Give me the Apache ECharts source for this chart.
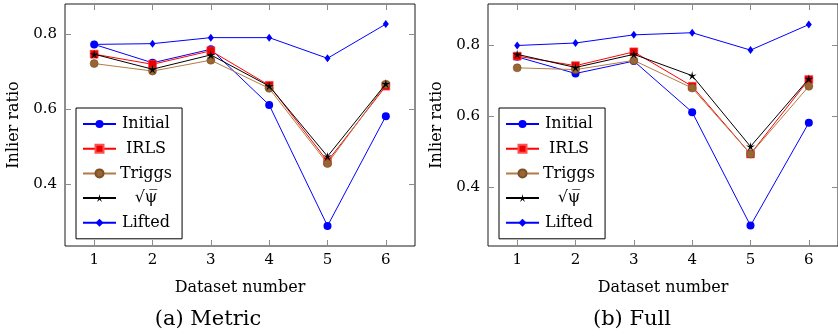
<!DOCTYPE html>
<html>
<head>
<meta charset="utf-8">
<style>
  html, body { margin: 0; padding: 0; background: #fff; }
  #chart { width: 838px; height: 336px; }
</style>
<script src="https://cdn.jsdelivr.net/npm/echarts@6/dist/echarts.min.js"></script>
</head>
<body>
<div id="chart"></div>
<script>
// ---------- data ----------
const categories = ['1', '2', '3', '4', '5', '6'];
const seriesNames = ['Initial', 'IRLS', 'Triggs', '√ψ', 'Lifted'];
const yTickValues = [0.4, 0.6, 0.8];

// (a) Metric
const metricInitial = [0.773, 0.724, 0.760, 0.612, 0.290, 0.582];
const metricIRLS    = [0.747, 0.720, 0.756, 0.664, 0.462, 0.662];
const metricTriggs  = [0.722, 0.702, 0.731, 0.656, 0.456, 0.667];
const metricSqrtPsi = [0.747, 0.707, 0.745, 0.662, 0.475, 0.668];
const metricLifted  = [0.773, 0.775, 0.791, 0.791, 0.736, 0.827];

// (b) Full
const fullInitial = [0.768, 0.721, 0.756, 0.612, 0.292, 0.582];
const fullIRLS    = [0.770, 0.743, 0.782, 0.685, 0.494, 0.704];
const fullTriggs  = [0.737, 0.732, 0.758, 0.680, 0.494, 0.685];
const fullSqrtPsi = [0.775, 0.738, 0.775, 0.715, 0.515, 0.706];
const fullLifted  = [0.800, 0.807, 0.830, 0.836, 0.787, 0.859];

const captions = ['(a) Metric', '(b) Full'];
const xAxisTitle = 'Dataset number';
const yAxisTitle = 'Inlier ratio';

// ---------- styles ----------
const FONT = '"DejaVu Serif", "Liberation Serif", serif';
const starPath = 'path://M50 0 L58.82 37.86 L97.55 34.55 L64.27 54.64 L79.39 90.45 L50 65 L20.61 90.45 L35.73 54.64 L2.45 34.55 L41.18 37.86 Z';

const styles = {
  'Initial': { color: '#0000ff', symbol: 'circle', symbolSize: 8, item: { color: '#0000ff' } },
  'IRLS':    { color: '#ff0000', symbol: 'rect', symbolSize: 8, item: { color: '#ee0000', borderColor: '#ff5050', borderWidth: 0.6 } },
  'Triggs':  { color: '#b47a45', symbol: 'circle', symbolSize: 8, item: { color: '#996633', borderColor: '#7a5028', borderWidth: 0.6 } },
  '√ψ':      { color: '#000000', symbol: starPath, symbolSize: 9, item: { color: '#000000' } },
  'Lifted':  { color: '#0000ff', symbol: 'diamond', symbolSize: [6, 8], item: { color: '#0000ff' } }
};

const panels = [
  { data: [metricInitial, metricIRLS, metricTriggs, metricSqrtPsi, metricLifted], ymin: 0.2365, ymax: 0.8805, left: 65, captionX: 208 },
  { data: [fullInitial, fullIRLS, fullTriggs, fullSqrtPsi, fullLifted], ymin: 0.2345, ymax: 0.917, left: 488, captionX: 632 }
];

const grids = [], xAxes = [], yAxes = [], series = [], legends = [], graphics = [];

panels.forEach((p, i) => {
  grids.push({ left: p.left, top: 4, width: 350, height: 242, show: true, borderColor: '#1a1a1a', borderWidth: 1, backgroundColor: 'transparent' });
  const tickStyle = { show: true, inside: true, length: 6, lineStyle: { color: '#8c8c8c', width: 1 } };
  xAxes.push({
    type: 'category', gridIndex: i, data: categories, boundaryGap: true, position: 'bottom',
    axisLine: { show: false },
    axisTick: Object.assign({ alignWithLabel: true }, tickStyle),
    axisLabel: { show: true, margin: 7, fontFamily: FONT, fontSize: 15, color: '#000' },
    name: xAxisTitle, nameLocation: 'middle', nameGap: 34,
    nameTextStyle: { fontFamily: FONT, fontSize: 16, color: '#000' },
    splitLine: { show: false }
  });
  xAxes.push({
    type: 'category', gridIndex: i, data: categories, boundaryGap: true, position: 'top',
    axisLine: { show: false },
    axisTick: Object.assign({ alignWithLabel: true }, tickStyle),
    axisLabel: { show: false }, splitLine: { show: false }
  });
  yAxes.push({
    type: 'value', gridIndex: i, min: p.ymin, max: p.ymax, position: 'left',
    axisLine: { show: false },
    axisTick: Object.assign({ customValues: yTickValues }, tickStyle),
    axisLabel: { show: true, customValues: yTickValues, margin: 8, fontFamily: FONT, fontSize: 15, color: '#000', formatter: v => v.toFixed(1) },
    name: yAxisTitle, nameLocation: 'middle', nameGap: 43, nameRotate: 90,
    nameTextStyle: { fontFamily: FONT, fontSize: 16, color: '#000' },
    splitLine: { show: false }
  });
  yAxes.push({
    type: 'value', gridIndex: i, min: p.ymin, max: p.ymax, position: 'right',
    axisLine: { show: false },
    axisTick: Object.assign({ customValues: yTickValues }, tickStyle),
    axisLabel: { show: false }, splitLine: { show: false }
  });

  seriesNames.forEach((name, k) => {
    const s = styles[name];
    series.push({
      type: 'line', name: name, xAxisIndex: i * 2, yAxisIndex: i * 2,
      data: p.data[k], symbol: s.symbol, symbolSize: s.symbolSize,
      showAllSymbol: true, animation: false, z: 2 + k,
      lineStyle: { color: s.color, width: 1 },
      itemStyle: Object.assign({ opacity: 1 }, s.item),
      emphasis: { disabled: true }
    });
  });

  legends.push({
    data: seriesNames, left: p.left + 11, top: 108, orient: 'vertical',
    backgroundColor: '#fff', borderColor: '#000', borderWidth: 1,
    padding: [8, 10, 8, 6], itemGap: 8.7, itemWidth: 33, itemHeight: 10, itemTextGap: 5,
    selectedMode: false,
    formatter: n => n === '√ψ' ? '{c|√ψ̅}' : '{c|' + n + '}',
    textStyle: {
      rich: { c: { width: 50, align: 'center', fontFamily: FONT, fontSize: 16, color: '#000' } }
    }
  });

  graphics.push({
    type: 'text', x: p.captionX, y: 320,
    style: { text: captions[i], font: '21px ' + FONT, fill: '#000', textAlign: 'center', textVerticalAlign: 'middle' }
  });
});

const chart = echarts.init(document.getElementById('chart'), null, { renderer: 'canvas' });
chart.setOption({
  animation: false,
  grid: grids, xAxis: xAxes, yAxis: yAxes, series: series,
  legend: legends, graphic: graphics
});
</script>
</body>
</html>
